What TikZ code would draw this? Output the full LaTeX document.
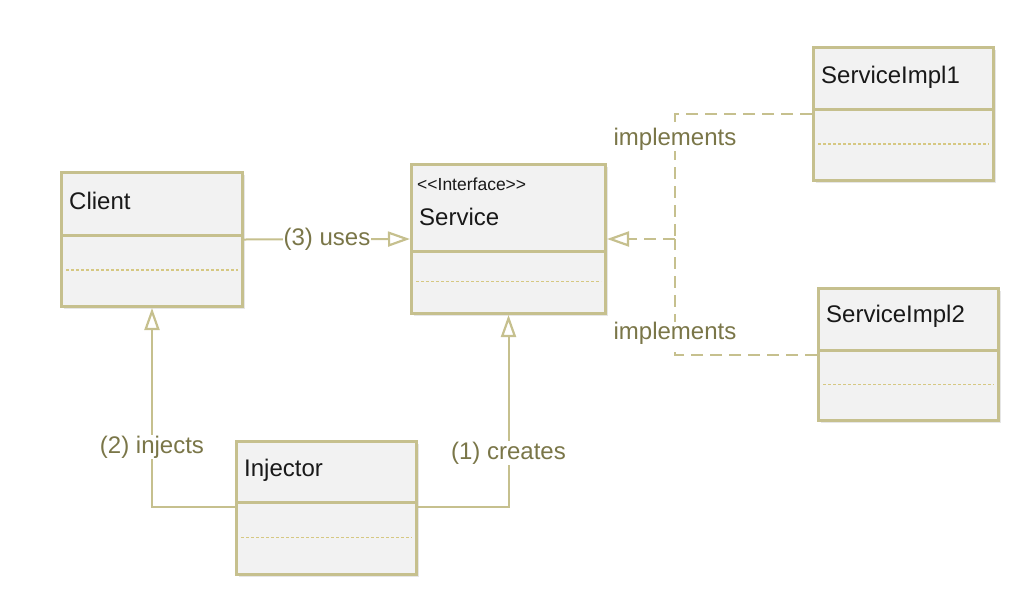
\documentclass[tikz,border=0pt]{standalone}
\usepackage{fontspec}
\setmainfont{Liberation Sans}
\newfontfamily\stereofont{Liberation Sans}
\usetikzlibrary{arrows.meta,shadows}

\definecolor{bordure}{RGB}{198,192,142}
\definecolor{fond}{RGB}{242,242,242}
\definecolor{texteLien}{RGB}{122,118,72}
\definecolor{pointille}{RGB}{214,200,130}

\tikzset{
    classe/.style={draw=bordure, line width=3pt, fill=fond, rectangle, inner sep=0pt,
        drop shadow={shadow xshift=2pt, shadow yshift=-2pt, opacity=0.2}},
    titre/.style={font=\fontsize{24}{28}\selectfont, text=black!90, inner sep=0pt, anchor=west},
    stereotype/.style={font=\stereofont\fontsize{17.5}{20}\selectfont, text=black!90, inner sep=0pt, anchor=west},
    lien/.style={draw=bordure, line width=2pt},
    realise/.style={lien, dash pattern=on 12pt off 7pt},
    fleche/.style={-{Triangle[open, length=22pt, width=15pt, line width=2.2pt]}},
    etiquette/.style={font=\fontsize{24}{28}\selectfont, text=texteLien, fill=white, inner sep=1pt},
}

% boite de classe : nom, x, y (coin haut gauche), largeur, haut. titre, haut. bas, decalage titre, titre
\newcommand{\Classe}[8]{%
    \node[classe, anchor=north west, minimum width=#4pt, minimum height=#5pt+#6pt] (#1) at (#2,#3) {};
    \draw[bordure, line width=3pt] ([yshift=-#5pt]#1.north west) -- ([yshift=-#5pt]#1.north east);
    \draw[pointille, line width=1.2pt, dash pattern=on 3pt off 2pt]
        ([xshift=6pt,yshift=-#5pt-#6pt/2]#1.north west) -- ([xshift=-6pt,yshift=-#5pt-#6pt/2]#1.north east);
    \node[titre] (#1-titre) at ([xshift=9pt,yshift=-#7pt]#1.north west) {#8};
}

\begin{document}
\begin{tikzpicture}[x=1pt,y=-1pt]

\useasboundingbox (0,0) rectangle (1034,590);

% les classes
\Classe{Client}{60}{171}{181}{64}{70}{30}{Client}
\Classe{Service}{410}{163}{194}{88}{61}{54}{Service}
\node[stereotype] (Service-stereo) at ([xshift=7pt,yshift=-21pt]Service.north west) {<<Interface>>};
\Classe{ServiceImpl1}{812}{46}{180}{63}{70}{31}{ServiceImpl1}
\Classe{ServiceImpl2}{817}{287}{180}{63}{69}{29}{ServiceImpl2}
\Classe{Injector}{235}{440}{180}{62}{71}{30}{Injector}

% points de depart et jonction
\coordinate (Inj-gauche) at ([yshift=-67pt]Injector.north west);
\coordinate (Inj-droite) at ([yshift=-67pt]Injector.north east);
\coordinate (Jonction) at ([xshift=68pt]Service.east);

% liens
\draw[lien, fleche] (Client.east) -- node[etiquette] (lab-uses) {(3) uses} (Service.west);
\draw[lien, fleche] (Inj-gauche) -| node[etiquette, pos=0.65] (lab-injects) {(2) injects} (Client.south);
\draw[lien, fleche] (Inj-droite) -| node[etiquette, pos=0.64] (lab-creates) {(1) creates} (Service.south);

% realisations
\draw[realise] (ServiceImpl1.west) -| node[etiquette, pos=0.6] (lab-impl1) {implements} (Jonction);
\draw[realise] (ServiceImpl2.west) -| node[etiquette, pos=0.59] (lab-impl2) {implements} (Jonction);
\draw[realise, fleche] (Jonction) -- (Service.east);

\end{tikzpicture}
\end{document}
